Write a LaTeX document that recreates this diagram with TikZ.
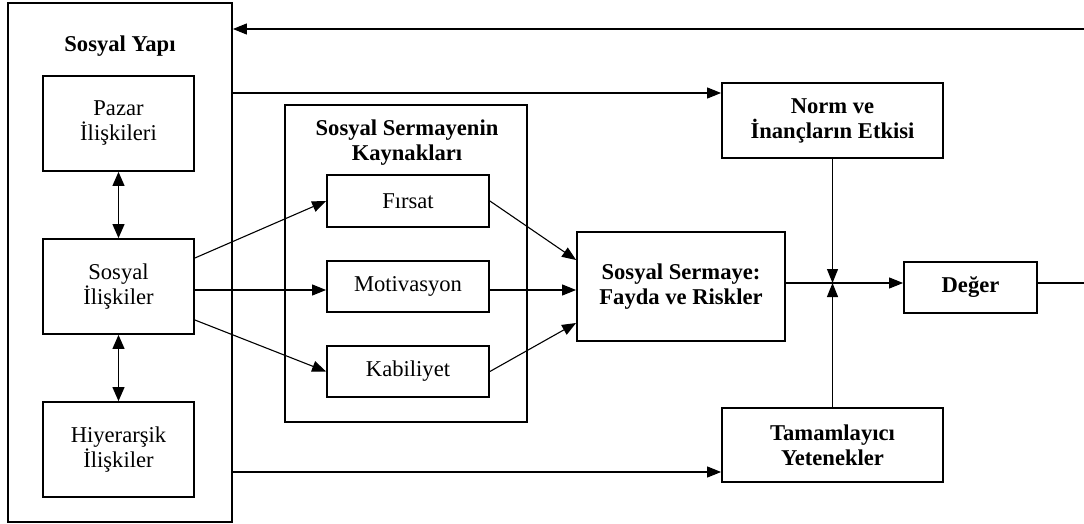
\documentclass[tikz,border=0pt]{standalone}
\usepackage{fontspec}
\setmainfont{Liberation Serif}
\usetikzlibrary{arrows.meta}
\begin{document}
\begin{tikzpicture}[x=1pt,y=1pt,
  every node/.style={font=\fontsize{22.6pt}{25pt}\selectfont, align=center, inner sep=0pt},
  box/.style={draw, line width=1.8pt},
  title/.style={font=\fontsize{22.6pt}{25pt}\selectfont\bfseries},
  conn/.style={line width=1.1pt},
  arr/.style={conn, -{Triangle[length=14pt,width=11pt]}},
  darr/.style={conn, {Triangle[length=14pt,width=12pt]}-{Triangle[length=14pt,width=12pt]}}]
\useasboundingbox (0,0) rectangle (1084,-524);
% outer boxes
\node[box, minimum width=224pt, minimum height=519pt] (sy) at (120,-262.5) {};
\node[title] (syt) at (120,-46.5) {Sosyal Yapı};
\node[box, minimum width=151pt, minimum height=95pt] (pazar) at (118.5,-123.5) {Pazar\\İlişkileri};
\node[box, minimum width=151pt, minimum height=95pt] (si) at (118.5,-286.5) {Sosyal\\İlişkiler};
\node[box, minimum width=151pt, minimum height=95pt] (hi) at (118.5,-449.5) {Hiyerarşik\\İlişkiler};
\node[box, minimum width=242pt, minimum height=317pt] (kay) at (406,-263.5) {};
\node[title] (kayt) at (407,-143) {Sosyal Sermayenin\\Kaynakları};
\node[box, minimum width=162pt, minimum height=52pt] (fir) at (408,-201) {Fırsat};
\node[box, minimum width=162pt, minimum height=51pt] (mot) at (408,-286.5) {Motivasyon};
\node[box, minimum width=162pt, minimum height=51pt] (kab) at (408,-371.5) {Kabiliyet};
\node[box, title, minimum width=208pt, minimum height=109pt] (ss) at (681,-286.5) {Sosyal Sermaye:\\Fayda ve Riskler};
\node[box, title, minimum width=221pt, minimum height=75pt] (norm) at (832.5,-120.5) {Norm ve\\İnançların Etkisi};
\node[box, title, minimum width=221pt, minimum height=74pt] (tam) at (832.5,-445) {Tamamlayıcı\\Yetenekler};
\node[box, title, minimum width=133pt, minimum height=51pt] (deg) at (970.5,-287.5) {Değer};
\coordinate (j) at (832.5,-283);
\coordinate (rt) at (1084,-29);
\coordinate (rb) at (1084,-283);
% connectors
\draw[darr] (pazar.south) -- (si.north);
\draw[darr] (si.south) -- (hi.north);
\draw[arr] ([yshift=28.5pt]si.east) -- (fir.west);
\draw[arr] ([yshift=-3.5pt]si.east) -- ([yshift=-3.5pt]mot.west);
\draw[arr] ([yshift=-33.5pt]si.east) -- (kab.west);
\draw[arr] (fir.east) -- ([yshift=26.5pt]ss.west);
\draw[arr] ([yshift=-3.5pt]mot.east) -- ([yshift=-3.5pt]ss.west);
\draw[arr] (kab.east) -- ([yshift=-36.5pt]ss.west);
\draw[arr] (sy.east |- 0,-93) -- (norm.west |- 0,-93);
\draw[arr] (sy.east |- 0,-472) -- (tam.west |- 0,-472);
\draw[arr] (norm.south) -- (j);
\draw[arr] (tam.north) -- (j);
\draw[arr] (j -| ss.east) -- (j -| deg.west);
\draw[conn] (j -| deg.east) -- (rb);
\draw[arr] (rt) -- (rt -| sy.east);
\end{tikzpicture}
\end{document}
